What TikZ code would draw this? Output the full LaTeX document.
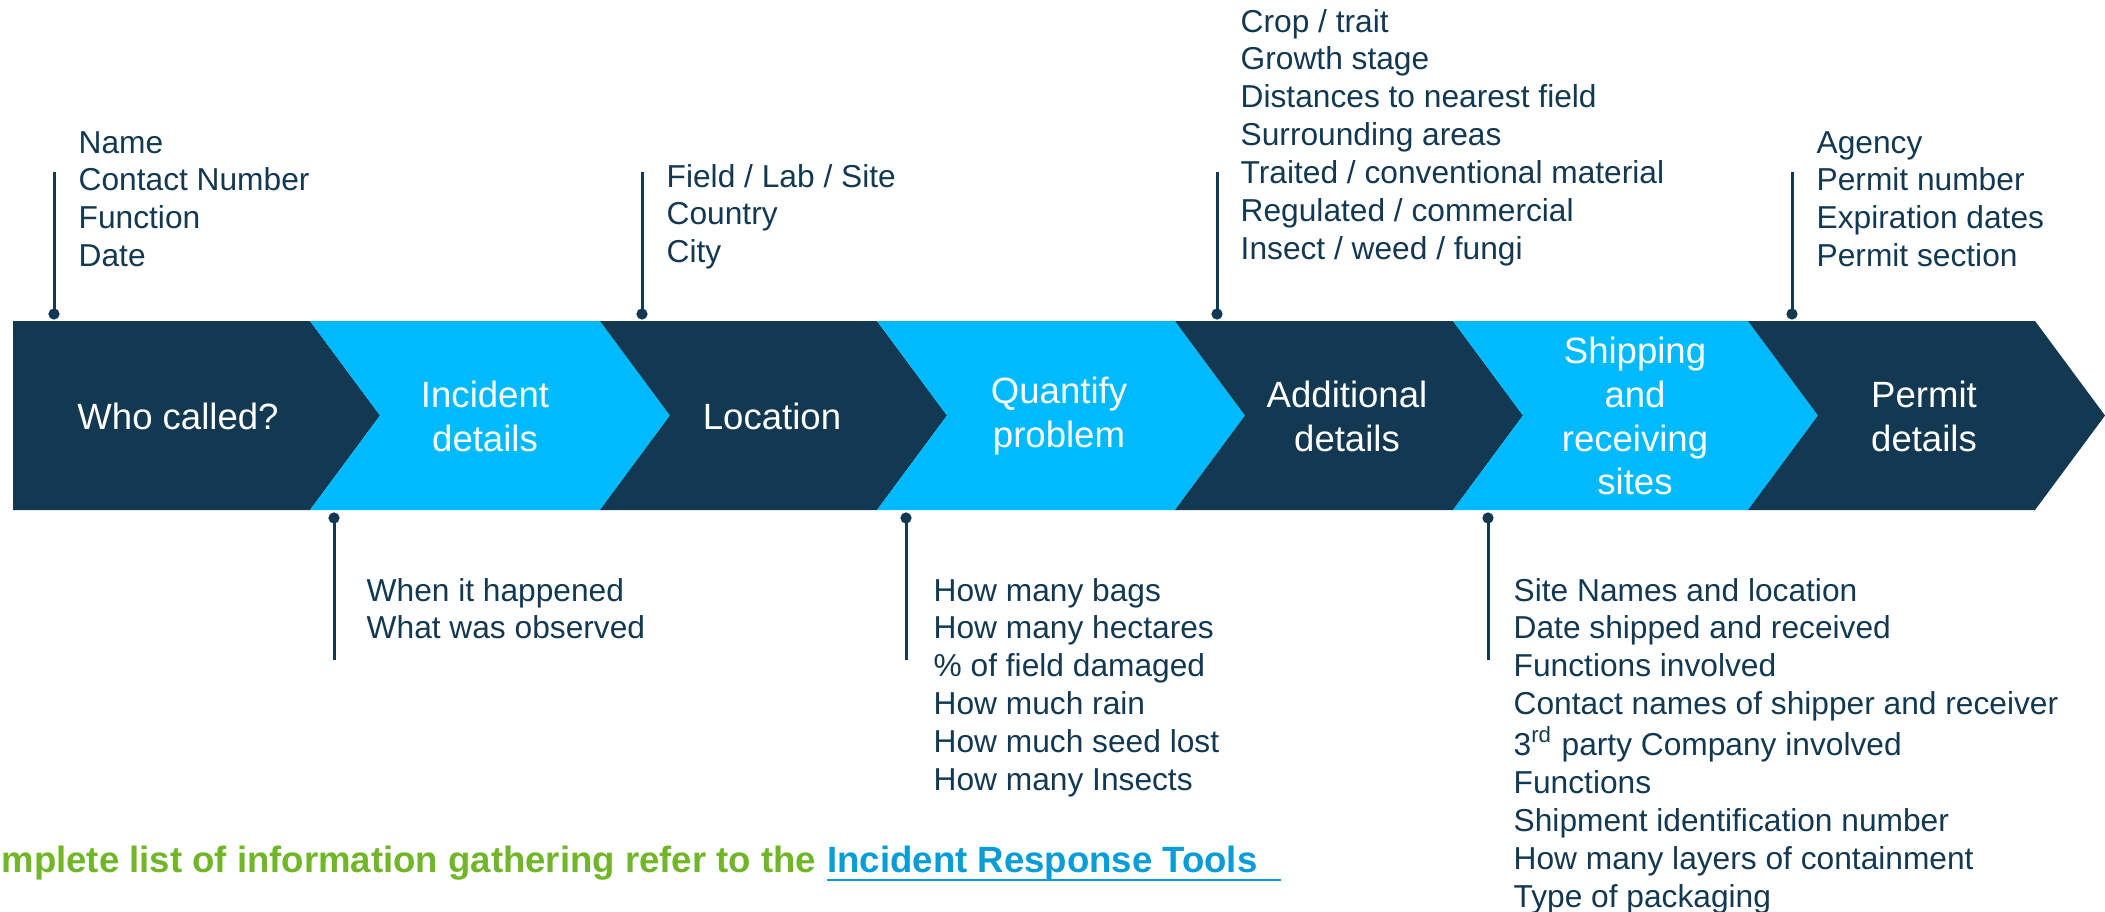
\documentclass[tikz,border=0pt]{standalone}
\usepackage{fontspec}
\setmainfont{Liberation Sans}
\usetikzlibrary{arrows.meta}

\definecolor{navy}{RGB}{19,57,82}
\definecolor{sky}{RGB}{0,186,255}
\definecolor{leaf}{RGB}{112,182,40}
\definecolor{linkblue}{RGB}{8,156,216}

\newcommand{\infofont}{\fontsize{9.02}{10.8}\selectfont}
\newcommand{\stagefont}{\fontsize{10.4}{12.5}\selectfont}
\newcommand{\notefont}{\fontsize{10.4}{12.5}\selectfont\bfseries}
\newcommand{\stack}[1]{\begin{tabular}[t]{@{}l@{}}#1\end{tabular}}

\begin{document}
\begin{tikzpicture}[x=0.1mm, y=-0.1mm,
    stage/.style={text=white, font=\stagefont, align=center},
    info/.style={anchor=base west, inner sep=0pt, text=navy, font=\infofont},
    note/.style={anchor=base east, inner sep=0pt, font=\notefont},
    pin/.style={navy, line width=0.3mm, -{Circle[length=1.1mm]}}]
    \useasboundingbox (0,0) rectangle (2105,911);
    \clip (0,0) rectangle (2105,911);
    % the band of chevrons
    \fill[navy] (13,321) -- (310,321) -- (380,415.5) -- (310,510) -- (13,510) -- cycle;
    \foreach \a/\b/\c in {310/600/sky, 600/877/navy, 877/1175/sky, 1175/1453/navy, 1453/1748/sky, 1748/2035/navy}
        \fill[\c] (\a,321) -- (\b,321) -- (\b+70,415.5) -- (\b,510) -- (\a,510) -- (\a+70,415.5) -- cycle;

    \node[stage] (who) at (178,416) {Who called?};
    \node[stage] (incident) at (485,416) {Incident\\details};
    \node[stage] (location) at (772,416) {Location};
    \node[stage] (quantify) at (1059,416) {Quantify\\problem};
    \node[stage] (additional) at (1347,416) {Additional\\details};
    \node[stage] (shipping) at (1635,416) {Shipping\\and\\receiving\\sites};
    \node[stage] (permit) at (1924,416) {Permit\\details};

    % pins
    \coordinate (whoTop) at (54,172);       \coordinate (whoDot) at (54,319.5);
    \coordinate (locTop) at (642,172);      \coordinate (locDot) at (642,319.5);
    \coordinate (addTop) at (1217,172);     \coordinate (addDot) at (1217,319.5);
    \coordinate (permTop) at (1792,172);    \coordinate (permDot) at (1792,319.5);
    \coordinate (incEnd) at (334,660);      \coordinate (incDot) at (334,512.5);
    \coordinate (quantEnd) at (906,660);    \coordinate (quantDot) at (906,512.5);
    \coordinate (shipEnd) at (1488,660);    \coordinate (shipDot) at (1488,512.5);
    \draw[pin] (whoTop) -- (whoDot);
    \draw[pin] (locTop) -- (locDot);
    \draw[pin] (addTop) -- (addDot);
    \draw[pin] (permTop) -- (permDot);
    \draw[pin] (incEnd) -- (incDot);
    \draw[pin] (quantEnd) -- (quantDot);
    \draw[pin] (shipEnd) -- (shipDot);

    % lists
    \node[info] (caller) at (78,153) {\stack{Name\\Contact Number\\Function\\Date}};
    \node[info] (place) at (666,187) {\stack{Field / Lab / Site\\Country\\City}};
    \node[info] (crop) at (1240,32) {\stack{Crop / trait\\Growth stage\\Distances to nearest field\\Surrounding areas\\Traited / conventional material\\Regulated / commercial\\Insect / weed / fungi}};
    \node[info] (agency) at (1816,153) {\stack{Agency\\Permit number\\Expiration dates\\Permit section}};
    \node[info] (when) at (366,601) {\stack{When it happened\\What was observed}};
    \node[info] (amount) at (933,601) {\stack{How many bags\\How many hectares\\\% of field damaged\\How much rain\\How much seed lost\\How many Insects}};
    \node[info] (sites) at (1513,601) {\stack{Site Names and location\\Date shipped and received\\Functions involved\\Contact names of shipper and receiver\\3\textsuperscript{rd} party Company involved\\Functions\\Shipment identification number\\How many layers of containment\\Type of packaging}};

    % note at the bottom
    \node[note, text=linkblue] (tools) at (1258,872) {Incident Response Tools};
    \node[note, text=leaf] (lead) at ([xshift=-1mm]tools.base west) {mplete list of information gathering refer to the};
    \coordinate (ulEnd) at (1281,880);
    \draw[linkblue, line width=0.25mm] (tools.base west |- ulEnd) -- (ulEnd);
\end{tikzpicture}
\end{document}
